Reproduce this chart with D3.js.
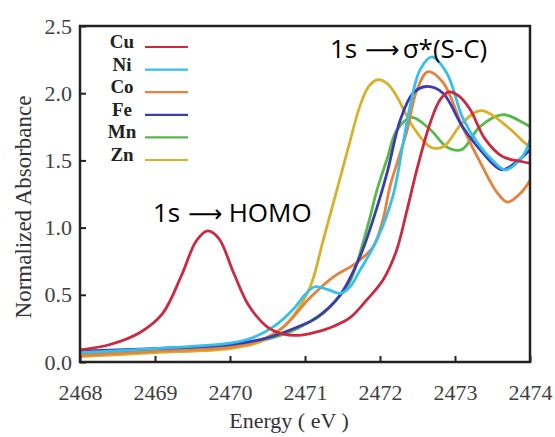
<!DOCTYPE html>
<html>
<head>
<meta charset="utf-8">
<script src="https://cdn.jsdelivr.net/npm/d3@7"></script>
<style>
  body { margin: 0; background: #fff; }
  svg { display: block; }
</style>
</head>
<body>
<div id="container"></div>
<script>
const width = 555,
  height = 437,
  margin = { top: 26, bottom: 75, left: 80, right: 25 };

// series as [energy (eV), normalized absorbance]
const cu = [[2468.0,0.09],[2468.4,0.13],[2468.8,0.22],[2469.1,0.36],[2469.35,0.64],[2469.55,0.90],[2469.7,0.975],[2469.85,0.92],[2470.05,0.66],[2470.25,0.42],[2470.5,0.26],[2470.7,0.21],[2470.95,0.2],[2471.2,0.23],[2471.4,0.27],[2471.6,0.33],[2471.82,0.46],[2472.04,0.61],[2472.22,0.83],[2472.36,1.13],[2472.5,1.45],[2472.67,1.78],[2472.8,1.95],[2472.92,2.01],[2473.05,1.98],[2473.2,1.88],[2473.4,1.66],[2473.63,1.53],[2473.9,1.49],[2474.0,1.48]];
const ni = [[2468.0,0.07],[2469.0,0.1],[2470.0,0.14],[2470.3,0.18],[2470.6,0.27],[2470.84,0.39],[2471.0,0.5],[2471.13,0.56],[2471.3,0.54],[2471.47,0.51],[2471.6,0.56],[2471.73,0.68],[2471.96,0.91],[2472.17,1.23],[2472.3,1.6],[2472.4,1.9],[2472.53,2.17],[2472.69,2.27],[2472.89,2.15],[2473.1,1.82],[2473.3,1.63],[2473.5,1.5],[2473.67,1.43],[2473.9,1.53],[2474.0,1.65]];
const co = [[2468.0,0.05],[2469.0,0.08],[2470.0,0.11],[2470.4,0.16],[2470.71,0.26],[2471.07,0.48],[2471.37,0.63],[2471.69,0.74],[2471.91,0.86],[2472.04,1.06],[2472.13,1.3],[2472.25,1.52],[2472.36,1.72],[2472.49,2.02],[2472.64,2.16],[2472.84,2.08],[2473.1,1.75],[2473.37,1.45],[2473.55,1.27],[2473.7,1.19],[2473.88,1.26],[2474.0,1.35]];
const fe = [[2468.0,0.08],[2469.0,0.1],[2470.0,0.13],[2470.5,0.18],[2470.9,0.26],[2471.16,0.33],[2471.47,0.5],[2471.73,0.78],[2471.96,1.15],[2472.1,1.42],[2472.27,1.8],[2472.44,2.0],[2472.62,2.05],[2472.84,2.0],[2473.1,1.75],[2473.35,1.57],[2473.62,1.43],[2473.8,1.48],[2474.0,1.58]];
const mn = [[2468.0,0.06],[2469.0,0.09],[2470.0,0.12],[2470.5,0.17],[2470.9,0.25],[2471.2,0.35],[2471.4,0.45],[2471.6,0.6],[2471.83,1.0],[2471.96,1.28],[2472.1,1.52],[2472.22,1.72],[2472.42,1.82],[2472.67,1.73],[2472.89,1.6],[2473.09,1.58],[2473.33,1.75],[2473.64,1.84],[2473.91,1.78],[2474.0,1.75]];
const zn = [[2468.0,0.04],[2469.0,0.07],[2470.0,0.1],[2470.4,0.15],[2470.67,0.24],[2470.84,0.34],[2471.07,0.56],[2471.24,0.9],[2471.42,1.27],[2471.58,1.6],[2471.73,1.9],[2471.85,2.05],[2471.97,2.1],[2472.1,2.07],[2472.22,1.98],[2472.44,1.75],[2472.67,1.6],[2472.84,1.6],[2473.1,1.78],[2473.35,1.87],[2473.7,1.75],[2473.91,1.64],[2474.0,1.6]];

const names = ["Cu", "Ni", "Co", "Fe", "Mn", "Zn"];
const colors = ["#cc2840", "#33c0ec", "#e4823e", "#3c3cb2", "#58b84a", "#d8b02a"];
const series = [cu, ni, co, fe, mn, zn];

const xTicks = [2468, 2469, 2470, 2471, 2472, 2473, 2474];
const yTicks = [0, 0.5, 1.0, 1.5, 2.0, 2.5];

const xScale = d3.scaleLinear()
  .domain([2468, 2474])
  .range([margin.left, width - margin.right])

const yScale = d3.scaleLinear()
  .domain([0, 2.5])
  .range([height - margin.bottom, margin.top])

const svg = d3.select("#container")
  .append("svg")
  .attr("width", width)
  .attr("height", height)

svg.append("clipPath")
  .attr("id", "plot-clip")
  .append("rect")
  .attr("x", margin.left)
  .attr("y", margin.top)
  .attr("width", width - margin.left - margin.right)
  .attr("height", height - margin.top - margin.bottom)

const line = d3.line()
  .x(d => xScale(d[0]))
  .y(d => yScale(d[1]))
  .curve(d3.curveCatmullRom.alpha(0.5))

// draw Cu last so the red pre-edge peak sits on top like the original
const order = [4, 5, 2, 3, 1, 0];
svg.append("g")
  .attr("clip-path", "url(#plot-clip)")
  .selectAll("path.spectrum")
  .data(order)
  .join("path")
  .attr("class", "spectrum")
  .attr("d", i => line(series[i]))
  .attr("fill", "none")
  .attr("stroke", i => colors[i])
  .attr("stroke-width", 2.8)
  .attr("stroke-linejoin", "round")

// axes with inward ticks
const xAxisGroup = svg.append("g")
  .attr("transform", `translate(0,${height - margin.bottom})`)
  .call(d3.axisBottom(xScale).tickValues(xTicks).tickFormat(d3.format("d"))
    .tickSizeInner(-6).tickSizeOuter(0).tickPadding(22))

const yAxisGroup = svg.append("g")
  .attr("transform", `translate(${margin.left},0)`)
  .call(d3.axisLeft(yScale).tickValues(yTicks).tickFormat(d3.format(".1f"))
    .tickSizeInner(-6).tickSizeOuter(0).tickPadding(8))

svg.selectAll(".domain").remove()
svg.selectAll(".tick line").attr("stroke", "#222").attr("stroke-width", 2)
svg.selectAll(".tick text")
  .style("font-family", "'Liberation Serif', 'DejaVu Serif', serif")
  .style("font-size", "22px")
  .attr("fill", "#404040")

// frame
svg.append("rect")
  .attr("x", margin.left)
  .attr("y", margin.top)
  .attr("width", width - margin.left - margin.right)
  .attr("height", height - margin.top - margin.bottom)
  .attr("fill", "none")
  .attr("stroke", "#222")
  .attr("stroke-width", 2.5)

// legend
const legend = svg.append("g")
  .selectAll("g")
  .data(names)
  .join("g")
  .attr("transform", (d, i) => `translate(0,${47 + i * 22.6})`)

legend.append("text")
  .attr("x", 122)
  .attr("y", 1)
  .attr("text-anchor", "middle")
  .style("font-family", "'Liberation Serif', serif")
  .style("font-weight", "bold")
  .style("font-size", "19px")
  .attr("fill", "#222")
  .text(d => d)

legend.append("line")
  .attr("x1", 145)
  .attr("x2", 188)
  .attr("stroke", (d, i) => colors[i])
  .attr("stroke-width", 2.2)

// axis labels
svg.append("text")
  .attr("text-anchor", "middle")
  .attr("x", 289)
  .attr("y", 428)
  .style("font-family", "'Liberation Serif', serif")
  .style("font-size", "22px")
  .attr("fill", "#333")
  .text("Energy ( eV )")

svg.append("text")
  .attr("text-anchor", "middle")
  .attr("transform", "translate(31,207) rotate(-90)")
  .style("font-family", "'Liberation Serif', serif")
  .style("font-size", "23px")
  .attr("fill", "#333")
  .text("Normalized Absorbance")

// transition annotations: "1s", a long arrow, then the final state
function annotate(x, y, state, gap) {
  const t = svg.append("text")
    .attr("x", x)
    .attr("y", y)
    .style("font-family", "'Open Sans', sans-serif")
    .style("font-size", "26px")
    .attr("fill", "#000")
  t.append("tspan").text("1s")
  t.append("tspan")
    .attr("dx", 8)
    .style("font-family", "'DejaVu Sans', sans-serif")
    .style("font-size", "24px")
    .text("\u27f6")
  t.append("tspan").attr("dx", gap).text(state)
}
annotate(153, 222, "HOMO", 6)
annotate(330, 58, "\u03c3*(S-C)", 3)
</script>
</body>
</html>
